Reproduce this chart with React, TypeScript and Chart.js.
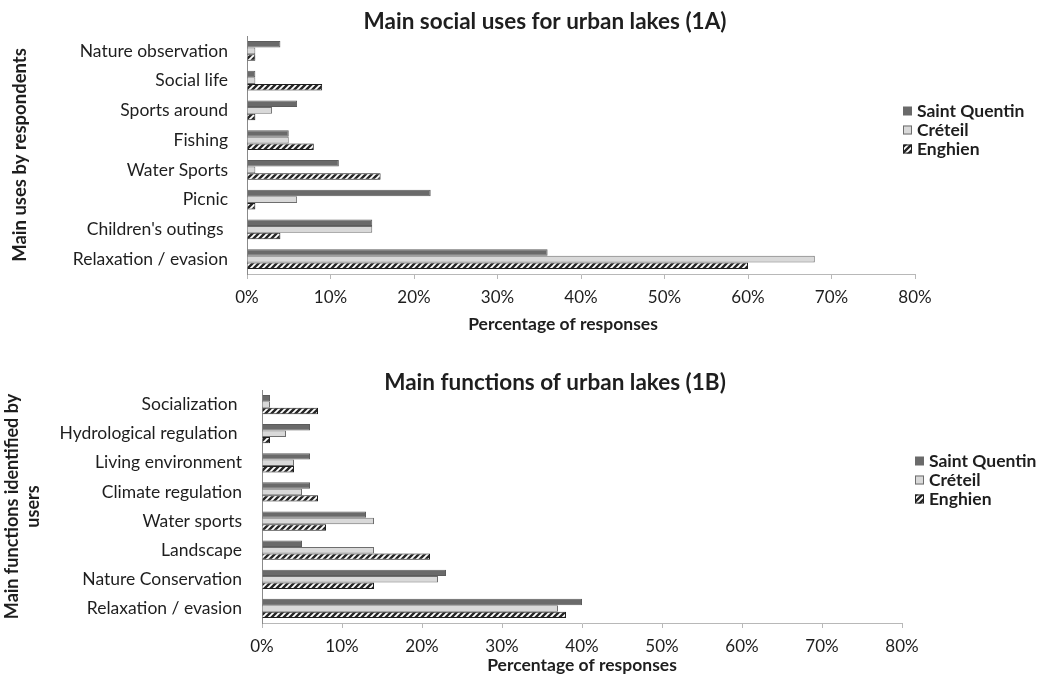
import React, { useEffect, useRef } from 'react';
import { Chart, registerables } from 'chart.js';

Chart.register(...registerables);

// ---------- Data ----------
const usesCategories = [
  'Nature observation',
  'Social life',
  'Sports around',
  'Fishing',
  'Water Sports',
  'Picnic',
  "Children's outings ",
  'Relaxation / evasion',
];
const usesSaintQuentin = [4, 1, 6, 5, 11, 22, 15, 36];
const usesCreteil = [1, 1, 3, 5, 1, 6, 15, 68];
const usesEnghien = [1, 9, 1, 8, 16, 1, 4, 60];

const functionsCategories = [
  'Socialization ',
  'Hydrological regulation ',
  'Living environment',
  'Climate regulation',
  'Water sports',
  'Landscape',
  'Nature Conservation',
  'Relaxation / evasion',
];
const functionsSaintQuentin = [1, 6, 6, 6, 13, 5, 23, 40];
const functionsCreteil = [1, 3, 4, 5, 14, 14, 22, 37];
const functionsEnghien = [7, 1, 4, 7, 8, 21, 14, 38];

const seriesNames = ['Saint Quentin', 'Créteil', 'Enghien'];

const titleUses = 'Main social uses for urban lakes (1A)';
const titleFunctions = 'Main functions of urban lakes (1B)';
const yTitleUses = 'Main uses by respondents';
const yTitleFunctions = ['Main functions identified by', 'users'];
const xTitle = 'Percentage of responses';
const xMax = 80;
const xStep = 10;

const FONT = 'Lato';
const TEXT = '#1e1e1e';

function makeHatch(): CanvasPattern | string {
  const c = document.createElement('canvas');
  c.width = 6;
  c.height = 6;
  const g = c.getContext('2d');
  if (!g) return '#555';
  g.fillStyle = '#ffffff';
  g.fillRect(0, 0, 6, 6);
  g.strokeStyle = '#262626';
  g.lineWidth = 2.4;
  g.beginPath();
  g.moveTo(-1, 7);
  g.lineTo(7, -1);
  g.moveTo(-1, 1);
  g.lineTo(1, -1);
  g.moveTo(5, 7);
  g.lineTo(7, 5);
  g.stroke();
  return g.createPattern(c, 'repeat') || '#555';
}

// Draws the series key next to the plot, as in the original figure.
const legendPlugin = {
  id: 'customLegend',
  afterDraw(chart: any, _args: any, opts: any) {
    const ctx = chart.ctx;
    ctx.save();
    chart.data.datasets.forEach((ds: any, i: number) => {
      const yy = opts.y + i * opts.gap;
      const size = 9;
      ctx.fillStyle = ds.backgroundColor;
      ctx.fillRect(opts.x, yy - size / 2, size, size);
      if (ds.legendBorder) {
        ctx.strokeStyle = ds.legendBorder;
        ctx.lineWidth = 1;
        ctx.strokeRect(opts.x + 0.5, yy - size / 2 + 0.5, size - 1, size - 1);
      }
      ctx.fillStyle = TEXT;
      ctx.font = `bold 17.5px ${FONT}`;
      ctx.textBaseline = 'middle';
      ctx.textAlign = 'left';
      ctx.fillText(ds.label, opts.x + 14, yy + 0.5);
    });
    ctx.restore();
  },
};

// Moves the chart title horizontally and draws the x-axis title at a chosen centre.
const titlePlacePlugin = {
  id: 'titlePlace',
  afterLayout(chart: any, _args: any, opts: any) {
    const tb = chart.titleBlock;
    if (tb && typeof opts.titleCenterX === 'number') {
      const w = tb.right - tb.left;
      tb.left = opts.titleCenterX - w / 2;
      tb.right = opts.titleCenterX + w / 2;
    }
  },
  afterDraw(chart: any, _args: any, opts: any) {
    if (!opts.xTitle) return;
    const sx = chart.scales.x;
    const ctx = chart.ctx;
    ctx.save();
    ctx.fillStyle = TEXT;
    ctx.font = `bold 17.5px ${FONT}`;
    ctx.textAlign = 'center';
    ctx.textBaseline = 'middle';
    ctx.fillText(opts.xTitle, (sx.left + sx.right) / 2 + opts.xTitleShift, opts.xTitleY);
    ctx.restore();
  },
};

type PanelProps = {
  top: number;
  height: number;
  categories: string[];
  sq: number[];
  cr: number[];
  en: number[];
  title: string;
  titleCenterX: number;
  titlePadding: { top: number; bottom: number };
  yTitle: string | string[];
  yTitlePad: number;
  yTitleSize: number;
  yAxisWidth: number;
  yLabelPad: number;
  rightPad: number;
  bottomPad: number;
  tickPad: number;
  xTitleY: number;
  xTitleShift: number;
  legend: { x: number; y: number; gap: number };
};

function Panel(p: PanelProps) {
  const ref = useRef<HTMLCanvasElement | null>(null);
  useEffect(() => {
    if (!ref.current) return;
    const hatch = makeHatch();
    const chart = new Chart(ref.current, {
      type: 'bar',
      data: {
        labels: p.categories,
        datasets: [
          {
            label: seriesNames[0],
            data: p.sq,
            backgroundColor: '#6a6a6a',
            borderColor: '#5c5c5c',
            borderWidth: 1,
            legendBorder: null,
          } as any,
          {
            label: seriesNames[1],
            data: p.cr,
            backgroundColor: '#d9d9d9',
            borderColor: '#6e6e6e',
            borderWidth: 1,
            legendBorder: '#6e6e6e',
          } as any,
          {
            label: seriesNames[2],
            data: p.en,
            backgroundColor: hatch,
            borderColor: '#1e1e1e',
            borderWidth: 1,
            legendBorder: '#1e1e1e',
          } as any,
        ],
      },
      options: {
        indexAxis: 'y',
        animation: false,
        responsive: false,
        devicePixelRatio: 1,
        categoryPercentage: 0.66,
        barPercentage: 1.0,
        layout: { padding: { left: 0, right: p.rightPad, top: 0, bottom: p.bottomPad } },
        plugins: {
          legend: { display: false },
          tooltip: { enabled: false },
          title: {
            display: true,
            text: p.title,
            color: TEXT,
            fullSize: false,
            font: { family: FONT, size: 22.5, weight: 'bold', lineHeight: 1.2 },
            padding: p.titlePadding,
          },
          customLegend: p.legend,
          titlePlace: {
            titleCenterX: p.titleCenterX,
            xTitle: xTitle,
            xTitleShift: p.xTitleShift,
            xTitleY: p.xTitleY,
          },
        } as any,
        scales: {
          x: {
            type: 'linear',
            min: 0,
            max: xMax,
            ticks: {
              stepSize: xStep,
              color: TEXT,
              padding: p.tickPad,
              font: { family: FONT, size: 17, lineHeight: 1.2 },
              callback: (v: any) => `${v}%`,
            },
            grid: {
              display: true,
              drawOnChartArea: false,
              drawTicks: true,
              tickLength: 5,
              color: '#b8b8b8',
            },
            border: { display: true, color: '#b8b8b8', width: 1 },
            title: { display: false },
          },
          y: {
            type: 'category',
            position: 'left',
            ticks: {
              color: TEXT,
              padding: p.yLabelPad,
              font: { family: FONT, size: 17.5 },
              autoSkip: false,
            },
            grid: { display: false, drawTicks: false, tickLength: 0 },
            border: { display: true, color: '#8a8a8a', width: 1 },
            title: {
              display: true,
              text: p.yTitle,
              color: TEXT,
              font: { family: FONT, size: p.yTitleSize, weight: 'bold', lineHeight: 1.2 },
              padding: { top: p.yTitlePad, bottom: 0 },
            },
            afterFit: (scale: any) => {
              scale.width = p.yAxisWidth;
            },
          },
        },
      } as any,
      plugins: [legendPlugin, titlePlacePlugin],
    });
    return () => chart.destroy();
  }, []);
  return (
    <div style={{ position: 'absolute', left: 0, top: p.top, width: 1043, height: p.height }}>
      <canvas
        ref={ref}
        width={1043}
        height={p.height}
        style={{ display: 'block', width: 1043, height: p.height }}
      />
    </div>
  );
}

export default function App() {
  return (
    <div style={{ position: 'absolute', left: 0, top: 0, width: 1043, height: 675, background: '#fff', overflow: 'hidden' }}>
      <Panel
        top={0}
        height={345}
        categories={usesCategories}
        sq={usesSaintQuentin}
        cr={usesCreteil}
        en={usesEnghien}
        title={titleUses}
        titleCenterX={545}
        titlePadding={{ top: 8.5, bottom: 0.5 }}
        yTitle={yTitleUses}
        yTitlePad={9}
        yTitleSize={18.5}
        yAxisWidth={247}
        yLabelPad={19}
        rightPad={128}
        bottomPad={28}
        tickPad={8.8}
        xTitleY={324}
        xTitleShift={-18}
        legend={{ x: 903, y: 111, gap: 19 }}
      />
      <Panel
        top={355}
        height={320}
        categories={functionsCategories}
        sq={functionsSaintQuentin}
        cr={functionsCreteil}
        en={functionsEnghien}
        title={titleFunctions}
        titleCenterX={555}
        titlePadding={{ top: 14.5, bottom: -6.5 }}
        yTitle={yTitleFunctions}
        yTitlePad={1.2}
        yTitleSize={18}
        yAxisWidth={262}
        yLabelPad={20}
        rightPad={141}
        bottomPad={9}
        tickPad={8.8}
        xTitleY={310}
        xTitleShift={0}
        legend={{ x: 915, y: 106, gap: 19 }}
      />
    </div>
  );
}
